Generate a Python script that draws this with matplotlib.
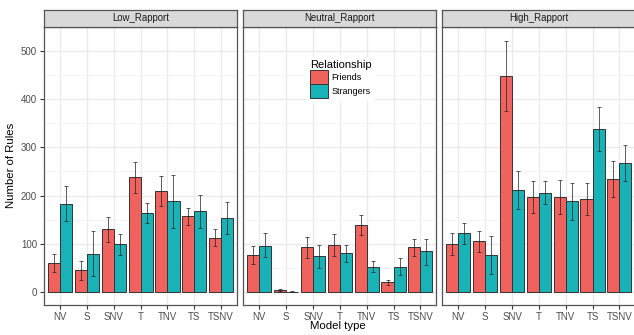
import matplotlib
matplotlib.use("Agg")
import matplotlib.pyplot as plt
import numpy as np
from matplotlib.patches import Patch

plt.rcParams.update({
    "font.family": "Liberation Sans",
    "axes.linewidth": 0.9,
})

models = ["NV", "S", "SNV", "T", "TNV", "TS", "TSNV"]
panels = ["Low_Rapport", "Neutral_Rapport", "High_Rapport"]
groups = ["Friends", "Strangers"]

# mean number of rules, with lower / upper error bar ends
low_friends = [60, 45, 131, 238, 209, 157, 113]
low_friends_lo = [41, 26, 104, 205, 178, 139, 95]
low_friends_hi = [80, 64, 156, 270, 240, 174, 131]
low_strangers = [183, 80, 99, 164, 188, 167, 154]
low_strangers_lo = [147, 33, 77, 143, 132, 132, 121]
low_strangers_hi = [219, 126, 120, 185, 242, 201, 186]

neu_friends = [77, 5, 94, 97, 139, 20, 93]
neu_friends_lo = [59, 2, 71, 74, 119, 15, 75]
neu_friends_hi = [95, 7, 115, 121, 160, 25, 109]
neu_strangers = [96, 1, 74, 81, 53, 53, 85]
neu_strangers_lo = [72, 0, 49, 63, 42, 36, 57]
neu_strangers_hi = [123, 2, 98, 98, 64, 70, 111]

high_friends = [100, 105, 448, 197, 197, 193, 234]
high_friends_lo = [76, 83, 376, 164, 161, 160, 197]
high_friends_hi = [123, 126, 520, 230, 233, 225, 271]
high_strangers = [122, 77, 211, 206, 189, 337, 267]
high_strangers_lo = [100, 38, 172, 182, 150, 292, 231]
high_strangers_hi = [143, 116, 250, 230, 227, 383, 305]

data = {
    "Low_Rapport": [(low_friends, low_friends_lo, low_friends_hi),
                    (low_strangers, low_strangers_lo, low_strangers_hi)],
    "Neutral_Rapport": [(neu_friends, neu_friends_lo, neu_friends_hi),
                        (neu_strangers, neu_strangers_lo, neu_strangers_hi)],
    "High_Rapport": [(high_friends, high_friends_lo, high_friends_hi),
                     (high_strangers, high_strangers_lo, high_strangers_hi)],
}

COLORS = ["#F0625E", "#19B3B7"]
W, H = 634, 335
fig = plt.figure(figsize=(W / 100, H / 100), dpi=100)

lefts = [44, 243.3, 442.3]
pw = 193.2
pbot, ptop = 304.7, 26.5
stop = 9.5

x = np.arange(1, len(models) + 1)
bw = 0.45
axes = []
for k, (name, left) in enumerate(zip(panels, lefts)):
    ax = fig.add_axes([left / W, (H - pbot) / H, pw / W, (pbot - ptop) / H])
    axes.append(ax)
    for j, (vals, lo, hi) in enumerate(data[name]):
        xs = x + (j - 0.5) * bw
        ax.bar(xs, vals, bw, color=COLORS[j], edgecolor="#333333", linewidth=0.7, zorder=3)
        v = np.array(vals)
        err = [v - np.array(lo), np.array(hi) - v]
        ax.errorbar(xs, vals, yerr=err, fmt="none", ecolor="#222222", elinewidth=0.6,
                    capsize=1.2, capthick=0.6, alpha=0.85, zorder=4)
    ax.set_xlim(0.4, 7.6)
    ax.set_ylim(-26, 546)
    ax.set_yticks([0, 100, 200, 300, 400, 500])
    ax.set_yticks([50, 150, 250, 350, 450, 550], minor=True)
    ax.set_xticks(x)
    ax.set_xticklabels(models)
    ax.grid(True, which="major", color="#EBEBEB", linewidth=1.0, zorder=0)
    ax.grid(True, which="minor", axis="y", color="#F2F2F2", linewidth=0.6, zorder=0)
    ax.set_axisbelow(True)
    for s in ax.spines.values():
        s.set_color("#555555")
    ax.tick_params(axis="both", which="major", length=3, color="#333333",
                   labelsize=7, labelcolor="#4D4D4D", pad=2)
    ax.tick_params(axis="y", which="minor", length=0)
    if k > 0:
        ax.tick_params(axis="y", which="major", length=0, labelleft=False)

    sax = fig.add_axes([left / W, (H - ptop) / H, pw / W, (ptop - stop) / H])
    sax.set_facecolor("#D9D9D9")
    sax.set_xticks([])
    sax.set_yticks([])
    for s in sax.spines.values():
        s.set_color("#555555")
    sax.text(0.5, 0.5, name, ha="center", va="center", fontsize=6.9, color="#1A1A1A",
             transform=sax.transAxes)

fig.text(11 / W, 1 - 165 / H, "Number of Rules", ha="center", va="center",
         rotation=90, fontsize=8.2)
fig.text(338 / W, 1 - 326 / H, "Model type", ha="center", va="center", fontsize=8.2)

handles = [Patch(facecolor=c, edgecolor="#333333", linewidth=0.7) for c in COLORS]
leg = axes[1].legend(handles, groups, title="Relationship", loc="upper left",
                     bbox_to_anchor=(0.332, 0.89), fontsize=6.5, title_fontsize=8,
                     frameon=True, fancybox=False, edgecolor="white", facecolor="white",
                     framealpha=1, handlelength=2.0, handleheight=2.0, handletextpad=0.35,
                     labelspacing=0.0, borderpad=0.3, borderaxespad=0)
leg._legend_box.align = "left"

fig.savefig("out.png", dpi=100)
